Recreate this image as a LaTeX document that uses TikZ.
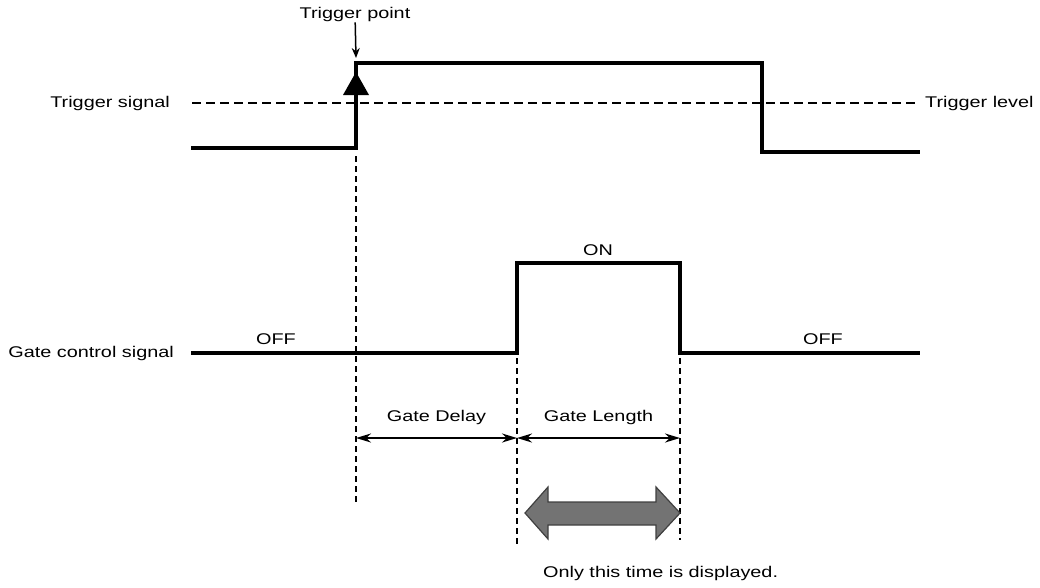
\documentclass[tikz,border=0pt]{standalone}
\usepackage{fontspec}
\setmainfont{Liberation Sans}[FakeStretch=1.28]
\usetikzlibrary{arrows.meta,positioning,calc}

\begin{document}
\begin{tikzpicture}[
  x=1pt,y=-1pt,
  font=\fontsize{15.5}{17}\selectfont,
  sig/.style={line width=4.2pt,line cap=rect},
  lvl/.style={line width=2.2pt,dash pattern=on 9pt off 5pt},
  guide/.style={line width=2pt,dash pattern=on 6pt off 4pt},
  dim/.style={{Stealth[length=15pt,width=9pt]}-{Stealth[length=15pt,width=9pt]},line width=2pt},
  lbl/.style={inner sep=1pt}
]
  \useasboundingbox (0,0) rectangle (1040,587);
  % time marks
  \coordinate (tA) at (356,0);
  \coordinate (tB) at (517,0);
  \coordinate (tC) at (680,0);
  \coordinate (tD) at (762,0);

  % trigger signal
  \draw[lvl] (192,103) -- (918,103);
  \draw[sig] (193,148) -- (tA |- 0,148) -- (tA |- 0,63) -- (tD |- 0,63) -- (tD |- 0,152) -- (918,152);
  \fill (tA |- 0,72) -- ++(-13,23) -- ++(26,0) -- cycle;
  \node[lbl,anchor=east] (trigsig) at (171,103) {Trigger signal};
  \node[lbl,anchor=west] (triglvl) at (924,103) {Trigger level};
  \node[lbl] (trigpt) at (355,14) {Trigger point};
  \draw[-{Stealth[length=10pt,width=8pt]},line width=1.5pt] (trigpt) -- (tA |- 0,58);

  % gate control signal
  \draw[sig] (193,353) -- (tB |- 0,353) -- (tB |- 0,263) -- (tC |- 0,263) -- (tC |- 0,353) -- (918,353);
  \node[lbl,anchor=east] (gatesig) at (175,353) {Gate control signal};
  \node[lbl] (offa) at (276,339) {OFF};
  \node[lbl] (on) at (598,250) {ON};
  \node[lbl] (offb) at (823,339) {OFF};

  % guide lines
  \draw[guide] (tA |- 0,156) -- (tA |- 0,505);
  \draw[guide] (tB |- 0,358) -- (tB |- 0,547);
  \draw[guide] (tC |- 0,358) -- (tC |- 0,540);

  % delay and length
  \coordinate (dA) at (tA |- 0,438);
  \coordinate (dB) at (tB |- 0,438);
  \coordinate (dC) at (tC |- 0,438);
  \draw[dim] (dA) -- node[lbl,above=11pt] (delay) {Gate Delay} (dB);
  \draw[dim] (dB) -- node[lbl,above=11pt] (length) {Gate Length} (dC);

  % displayed window
  \filldraw[fill=black!55,draw=black!75,line width=1.2pt]
    (525,513) -- (548,487) -- (548,502) -- (656,502) -- (656,487) -- (680,513)
    -- (656,539) -- (656,525) -- (548,525) -- (548,539) -- cycle;
  \node[lbl,anchor=west] (shown) at (542,573) {Only this time is displayed.};
\end{tikzpicture}
\end{document}
